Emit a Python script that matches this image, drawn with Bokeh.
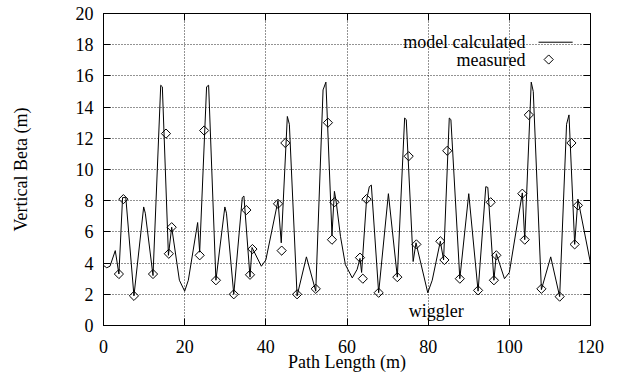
import numpy as np
from bokeh.plotting import figure
from bokeh.models import FixedTicker, LinearAxis, Range1d
from bokeh.embed import file_html
from bokeh.resources import INLINE
from bokeh.core.properties import value

# model calculated vertical beta along the path
model_s = [0.0, 0.8, 1.6, 2.9, 3.8, 4.7, 5.5, 7.5, 9.9, 10.3, 12.2, 14.1, 14.5, 16.0, 16.8,
           18.7, 20.0, 20.9, 23.2, 23.7, 25.4, 25.9, 27.7, 29.9, 30.3, 32.1, 34.2, 34.6,
           36.1, 36.6, 38.9, 40.0, 43.0, 43.8, 45.3, 45.8, 47.7, 50.0, 52.3, 54.1, 54.8,
           56.3, 56.9, 57.3, 58.4, 59.6, 61.3, 62.5, 63.2, 63.6, 64.8, 65.5, 66.0, 67.8,
           70.2, 72.4, 74.2, 74.6, 76.3, 77.0, 79.9, 81.0, 83.0, 83.8, 85.2, 85.6, 87.8,
           90.0, 92.3, 94.2, 94.7, 96.2, 96.8, 98.8, 100.0, 103.2, 103.8, 105.4, 105.9,
           107.9, 110.2, 112.4, 114.1, 114.7, 116.1, 116.9, 120.0]
model_beta = [3.85, 3.7, 3.8, 4.8, 3.3, 8.2, 8.2, 1.9, 7.6, 7.2, 3.2, 15.4, 15.3, 4.5, 6.3,
              2.9, 2.2, 2.9, 6.6, 4.7, 15.3, 15.4, 2.9, 7.6, 7.2, 2.0, 8.2, 8.3,
              3.1, 5.0, 3.8, 4.2, 8.0, 5.3, 13.4, 12.9, 1.9, 4.4, 2.2, 15.1, 15.6,
              5.8, 8.6, 8.0, 5.7, 3.9, 3.05, 3.6, 4.3, 3.4, 8.0, 8.9, 9.0, 2.1,
              8.45, 3.1, 13.3, 13.2, 4.1, 5.3, 2.1, 2.9, 5.4, 4.2, 13.3, 13.2, 3.0,
              8.45, 2.2, 8.9, 8.85, 2.9, 4.6, 3.0, 3.4, 8.5, 5.5, 15.6, 15.0,
              2.3, 4.4, 1.85, 12.9, 13.5, 5.2, 8.1, 4.0]

# measured vertical beta
meas_s = [3.8, 4.9, 7.5, 12.2, 15.4, 16.1, 16.8, 23.7, 24.8, 27.7, 32.1, 35.2, 36.1, 36.7,
          43.0, 43.9, 44.8, 47.7, 52.3, 55.3, 56.3, 56.9, 63.2, 63.9, 64.8, 67.8, 72.4,
          75.2, 77.1, 83.0, 84.0, 84.7, 87.8, 92.3, 95.4, 96.2, 96.8, 103.2, 103.8, 104.8,
          107.9, 112.4, 115.3, 116.1, 116.9]
meas_beta = [3.3, 8.1, 1.9, 3.3, 12.3, 4.6, 6.3, 4.5, 12.5, 2.9, 2.0, 7.4, 3.25, 4.9,
             7.8, 4.8, 11.7, 2.0, 2.35, 13.0, 5.5, 7.9, 4.35, 3.0, 8.1, 2.1, 3.1,
             10.85, 5.2, 5.4, 4.2, 11.2, 3.0, 2.25, 7.9, 2.9, 4.5, 8.45, 5.5, 13.5,
             2.35, 1.85, 11.7, 5.2, 7.7]

x_ticks = [0, 20, 40, 60, 80, 100, 120]
y_ticks = [0, 2, 4, 6, 8, 10, 12, 14, 16, 18, 20]

legend_labels = ["model calculated", "measured"]
annotation_text = "wiggler"

FONT = "Liberation Serif"
FS = "18px"

p = figure(width=620, height=377, x_range=Range1d(0, 120), y_range=Range1d(0, 20),
           output_backend="svg", toolbar_location=None, title=None,
           min_border_left=103, min_border_right=30, min_border_top=13, min_border_bottom=52)
p.background_fill_color = "white"
p.border_fill_color = "white"
p.outline_line_color = "black"
p.outline_line_width = 1

p.xaxis.ticker = FixedTicker(ticks=x_ticks)
p.yaxis.ticker = FixedTicker(ticks=y_ticks)
for ax in (p.xaxis[0], p.yaxis[0]):
    ax.major_tick_in = 7
    ax.major_tick_out = 0
    ax.minor_tick_line_color = None
    ax.axis_line_color = "black"
    ax.major_tick_line_color = "black"
    ax.major_label_text_font = FONT
    ax.major_label_text_font_size = FS
    ax.major_label_text_color = "black"
    ax.axis_label_text_font = FONT
    ax.axis_label_text_font_size = FS
    ax.axis_label_text_font_style = "normal"
    ax.axis_label_text_color = "black"

p.xaxis.major_label_standoff = 14
p.yaxis.major_label_standoff = 10
p.xaxis.axis_label = "Path Length (m)"
p.yaxis.axis_label = "Vertical Beta (m)"
p.xaxis.axis_label_standoff = -4
p.yaxis.axis_label_standoff = 42

for loc, tk in (("right", y_ticks), ("above", x_ticks)):
    ax = LinearAxis(ticker=FixedTicker(ticks=tk),
                    major_label_overrides={t: "" for t in tk},
                    major_tick_in=7, major_tick_out=0, minor_tick_line_color=None,
                    axis_line_color="black", major_tick_line_color="black",
                    major_label_standoff=0)
    p.add_layout(ax, loc)

p.xgrid.ticker = FixedTicker(ticks=x_ticks)
p.ygrid.ticker = FixedTicker(ticks=y_ticks)
p.grid.grid_line_color = "black"
p.grid.grid_line_dash = "1 2"
p.grid.grid_line_width = 1
p.grid.grid_line_alpha = 0.85

p.line(model_s, model_beta, line_color="black", line_width=1)
p.scatter(meas_s, meas_beta, marker="square", angle=np.pi / 4, size=6.5,
          fill_color=None, line_color="black", line_width=1)

# legend (gnuplot style: label then sample)
p.text(x=[104.0, 104.0], y=[18.2, 17.05], text=legend_labels, text_align="right",
       text_baseline="middle", text_font=value(FONT), text_font_size=FS, text_color="black")
p.line([107.2, 115.6], [18.16, 18.16], line_color="black", line_width=1)
p.scatter([109.7], [17.05], marker="square", angle=np.pi / 4, size=6.5,
          fill_color=None, line_color="black", line_width=1)

p.text(x=[75.2], y=[0.95], text=[annotation_text], text_align="left",
       text_baseline="middle", text_font=value(FONT), text_font_size=FS, text_color="black")

open("out.html", "w").write(file_html(p, INLINE))
